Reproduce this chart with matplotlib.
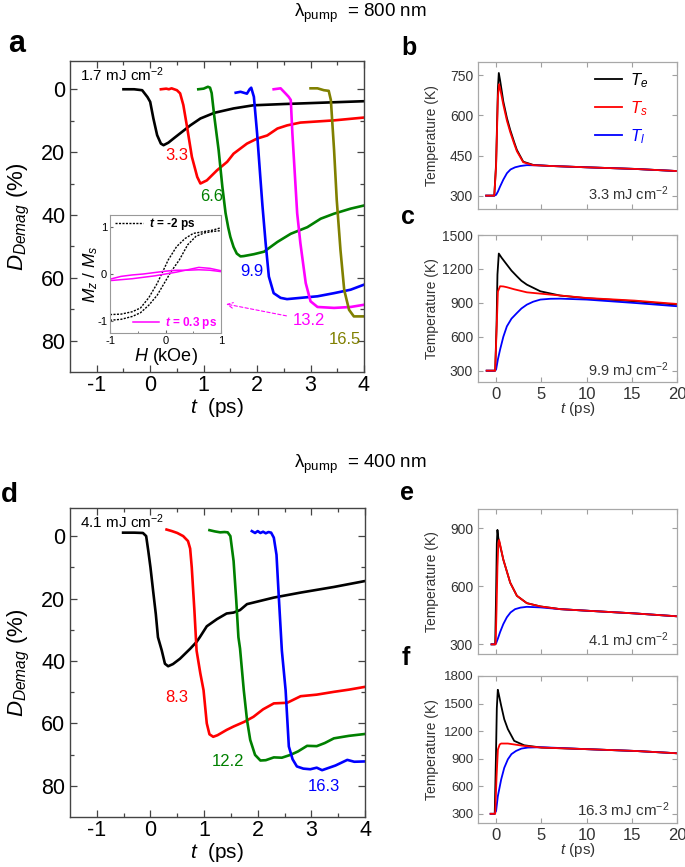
import matplotlib
matplotlib.use('Agg')
import matplotlib.pyplot as plt
from matplotlib.ticker import FixedLocator

plt.rcParams['font.family'] = ['Liberation Sans', 'DejaVu Sans']
plt.rcParams['mathtext.fontset'] = 'custom'
plt.rcParams['mathtext.rm'] = 'Liberation Sans'
plt.rcParams['mathtext.it'] = 'Liberation Sans:italic'
plt.rcParams['mathtext.bf'] = 'Liberation Sans:italic:bold'
plt.rcParams['axes.unicode_minus'] = False

# ---------------- data: panel a (800 nm) ----------------
a_fluence = ['1.7', '3.3', '6.6', '9.9', '13.2', '16.5']
a_colors = ['black', '#ff0000', '#008000', '#0000ff', '#ff00ff', '#808000']
a17_t = [-0.5, -0.3, -0.15, -0.05, 0.0, 0.06, 0.13, 0.2, 0.25, 0.34, 0.45, 0.6, 0.75, 0.94, 1.2, 1.56, 1.93, 2.5, 3.0, 3.5, 4.0]
a17_d = [0, 0, 0.3, 2.5, 4, 9.3, 14.6, 17.3, 17.8, 17.0, 15.5, 13.5, 11.5, 9.3, 7.5, 6.1, 5.1, 4.7, 4.4, 4.1, 3.8]
a33_t = [0.2, 0.3, 0.35, 0.4, 0.5, 0.56, 0.62, 0.69, 0.78, 0.88, 0.94, 1.06, 1.25, 1.44, 1.56, 1.81, 2.0, 2.19, 2.38, 2.56, 2.81, 3.44, 4.0]
a33_d = [0, -0.2, 0, -0.3, 0.3, 1.3, 5, 12, 21.5, 27.9, 30, 29, 25.8, 23.1, 20.5, 17.3, 15.7, 14.7, 12.5, 11.5, 10.6, 9.9, 9.0]
a66_t = [0.9, 1.0, 1.08, 1.12, 1.15, 1.2, 1.28, 1.35, 1.41, 1.46, 1.5, 1.56, 1.62, 1.69, 1.75, 1.94, 2.13, 2.38, 2.63, 2.94, 3.19, 3.44, 3.75, 4.0]
a66_d = [0, -0.2, -0.8, -0.5, 1.2, 8.7, 19.3, 31, 39.4, 44, 47, 50.2, 52.3, 53.2, 53.1, 52.5, 51.7, 48.6, 46, 43.9, 41.2, 39.6, 38, 37]
a99_t = [1.6, 1.69, 1.81, 1.86, 1.89, 1.94, 2.0, 2.06, 2.1, 2.16, 2.22, 2.31, 2.44, 2.56, 2.81, 3.13, 3.44, 3.75, 4.0]
a99_d = [1.1, 0.8, 1.4, 0, -0.5, 2.4, 14, 27.9, 37, 49, 59.6, 64.9, 66.4, 66.8, 66.4, 65.9, 64.9, 63.8, 62.2]
a132_t = [2.31, 2.44, 2.53, 2.59, 2.63, 2.66, 2.72, 2.75, 2.81, 2.91, 3.0, 3.13, 3.44, 3.75, 4.0]
a132_d = [0, -0.3, 1.3, 2.4, 3.4, 14, 31, 39.5, 49, 61.7, 67.5, 69.3, 69.6, 69.3, 68.6]
a165_t = [3.0, 3.13, 3.25, 3.34, 3.38, 3.44, 3.49, 3.56, 3.63, 3.72, 3.81, 4.0]
a165_d = [-0.3, -0.3, 0.3, 0.5, 3.4, 19.3, 35.2, 51.2, 63.9, 70.2, 72.3, 72.3]

# inset hysteresis loops
loop_H1 = [-1, -0.8, -0.6, -0.45, -0.3, -0.15, -0.05, 0.05, 0.2, 0.35, 0.5, 0.7, 0.85, 1.0]
loop_M1 = [-0.86, -0.85, -0.8, -0.72, -0.5, -0.2, 0.05, 0.3, 0.58, 0.75, 0.86, 0.9, 0.93, 0.98]
loop_H2 = [-1, -0.8, -0.6, -0.45, -0.3, -0.15, 0.0, 0.1, 0.25, 0.4, 0.55, 0.7, 0.85, 1.0]
loop_M2 = [-0.98, -0.96, -0.9, -0.82, -0.66, -0.45, -0.15, 0.05, 0.3, 0.62, 0.8, 0.87, 0.9, 0.92]
loopm_H = [-1, -0.8, -0.6, -0.4, -0.2, 0, 0.2, 0.4, 0.6, 0.8, 1.0]
loopm_M1 = [-0.14, -0.12, -0.1, -0.07, -0.04, 0.0, 0.04, 0.09, 0.14, 0.12, 0.07]
loopm_M2 = [-0.11, -0.05, -0.02, 0.0, 0.03, 0.06, 0.08, 0.08, 0.09, 0.08, 0.05]

# ---------------- data: panel d (400 nm) ----------------
d_fluence = ['4.1', '8.3', '12.2', '16.3']
d_colors = ['black', '#ff0000', '#008000', '#0000ff']
d41_t = [-0.51, -0.3, -0.14, -0.08, -0.04, 0.0, 0.05, 0.1, 0.14, 0.21, 0.27, 0.33, 0.42, 0.55, 0.74, 0.86, 0.92, 1.05, 1.24, 1.42, 1.55, 1.67, 1.8, 1.99, 2.3, 2.8, 3.42, 4.0]
d41_d = [-1.1, -1.1, -1.0, 0, 4.8, 10, 17.6, 25, 32.4, 36.6, 40.9, 41.7, 41, 39.3, 36.1, 33.9, 32.4, 28.9, 26.6, 24.8, 24.5, 23.7, 21.8, 21, 19.7, 18.1, 16.3, 14.4]
d83_t = [0.3, 0.4, 0.5, 0.61, 0.7, 0.74, 0.77, 0.82, 0.86, 0.93, 0.99, 1.05, 1.1, 1.17, 1.25, 1.42, 1.55, 1.75, 1.92, 2.1, 2.3, 2.55, 2.8, 3.1, 3.42, 3.7, 4.0]
d83_d = [-2.1, -1.6, -1.0, 0, 1.6, 4, 10, 24, 36.7, 44, 49.4, 60, 63.5, 64.3, 63.8, 62.1, 61, 59.5, 57.9, 55.5, 53.6, 53.4, 51.3, 50.8, 49.9, 49.2, 48.3]
d122_t = [1.1, 1.2, 1.3, 1.38, 1.44, 1.49, 1.55, 1.6, 1.64, 1.67, 1.74, 1.8, 1.86, 1.95, 2.05, 2.15, 2.3, 2.45, 2.61, 2.75, 2.92, 3.1, 3.25, 3.42, 3.7, 4.0]
d122_d = [-1.9, -1.5, -1.2, -1.3, -1.2, 0, 8, 20.7, 32.4, 36, 49.4, 58.9, 65.3, 70.1, 71.9, 71.8, 70.9, 71, 70.1, 69, 67.2, 67.3, 66.3, 64.8, 64, 63.4]
d163_t = [1.89, 1.95, 2.0, 2.05, 2.1, 2.15, 2.2, 2.25, 2.3, 2.35, 2.39, 2.45, 2.52, 2.58, 2.65, 2.73, 2.85, 2.98, 3.1, 3.2, 3.3, 3.45, 3.67, 3.8, 4.0]
d163_d = [-1.6, -1.0, -1.6, -1.0, -1.4, -0.9, -1.3, -1.1, 0.5, 6, 18.6, 36.7, 49.4, 67.4, 71.5, 73.8, 74.5, 74.7, 74.2, 75, 74.4, 73.5, 71.7, 72.3, 72.2]

# ---------------- data: temperature panels ----------------
b_Te_t = [-1.1, -0.2, 0.0, 0.1, 0.2, 0.3, 0.45, 0.8, 1.2, 1.56, 2.0, 2.3, 3.0, 4.1, 6, 10, 15.3, 20]
b_Te = [300, 300, 420, 560, 700, 759, 730, 652, 590, 546, 500, 471, 427, 415, 411, 406, 400, 392]
b_Ts_t = [-1.1, -0.2, 0.0, 0.1, 0.2, 0.33, 0.45, 0.8, 1.2, 1.56, 2.0, 2.3, 3.0, 4.1, 6, 10, 15.3, 20]
b_Ts = [300, 300, 410, 540, 670, 717, 700, 640, 580, 538, 494, 466, 425, 414, 411, 406, 400, 392]
b_Tl_t = [-1.1, -0.2, 0.0, 0.2, 0.44, 0.8, 1.2, 1.6, 2.1, 2.7, 3.4, 4.9, 6, 10, 15.3, 20]
b_Tl = [300, 300, 303, 315, 334, 360, 384, 398, 406, 411, 414, 413, 411, 406, 400, 392]

c_Te_t = [-1.04, -0.1, 0.05, 0.15, 0.3, 0.6, 1.19, 1.7, 2.3, 2.8, 3.4, 4.9, 7.1, 10.1, 15.3, 20]
c_Te = [300, 300, 700, 1150, 1336, 1300, 1238, 1185, 1135, 1095, 1061, 1002, 964, 940, 914, 884]
c_Ts_t = [-1.04, -0.1, 0.05, 0.2, 0.44, 0.8, 1.2, 2.0, 3.4, 6, 10, 15.3, 20]
c_Ts = [300, 300, 650, 1000, 1047, 1045, 1038, 1020, 993, 973, 943, 920, 890]
c_Tl_t = [-1.04, -0.2, 0.0, 0.2, 0.44, 0.8, 1.19, 1.7, 2.3, 2.8, 3.4, 4.1, 4.9, 6, 7.1, 10, 15.3, 20]
c_Tl = [300, 300, 310, 400, 486, 600, 692, 760, 810, 850, 884, 910, 929, 936, 937, 929, 899, 870]

e_Te_t = [-0.5, -0.1, 0.0, 0.08, 0.15, 0.25, 0.4, 0.8, 1.56, 2.3, 3.4, 4.9, 7.1, 10, 15.3, 20]
e_Te = [300, 300, 560, 820, 892, 850, 820, 738, 619, 551, 513, 496, 482, 474, 460, 445]
e_Ts_t = [-0.5, -0.05, 0.05, 0.15, 0.25, 0.33, 0.45, 0.8, 1.56, 2.3, 3.4, 4.9, 7.1, 10, 15.3, 20]
e_Ts = [300, 300, 480, 700, 820, 840, 815, 738, 619, 551, 513, 496, 482, 474, 460, 445]
e_Tl_t = [-0.5, -0.2, 0.0, 0.2, 0.44, 0.8, 1.19, 1.6, 2.1, 2.7, 3.4, 4.9, 7.1, 10, 15.3, 20]
e_Tl = [300, 300, 305, 330, 363, 405, 440, 465, 482, 490, 494, 491, 482, 474, 460, 445]

f_Te_t = [-0.6, -0.15, -0.02, 0.08, 0.19, 0.3, 0.56, 0.9, 1.3, 2.0, 3.1, 5, 10.2, 15.4, 20]
f_Te = [300, 300, 900, 1450, 1650, 1600, 1478, 1330, 1222, 1094, 1046, 1021, 1003, 984, 959]
f_Ts_t = [-0.6, -0.1, 0.05, 0.2, 0.4, 0.56, 1.3, 3.1, 5, 10.2, 15.4, 20]
f_Ts = [300, 300, 700, 1000, 1055, 1065, 1065, 1039, 1021, 1003, 984, 959]
f_Tl_t = [-0.6, -0.2, 0.0, 0.19, 0.56, 0.9, 1.3, 1.7, 2.2, 2.8, 3.5, 5, 10.2, 15.4, 20]
f_Tl = [300, 300, 330, 490, 673, 800, 893, 950, 984, 1010, 1021, 1025, 1003, 984, 959]

# ---------------- figure ----------------
W, H = 685, 867
fig = plt.figure(figsize=(6.85, 8.67), dpi=100)


def box(l, t, r, b):
    return [l / W, 1 - b / H, (r - l) / W, (b - t) / H]


def style_main(ax):
    ax.set_xlim(-1.5, 4)
    ax.set_ylim(90, -9)
    ax.xaxis.set_major_locator(FixedLocator([-1, 0, 1, 2, 3, 4]))
    ax.xaxis.set_minor_locator(FixedLocator([-0.5, 0.5, 1.5, 2.5, 3.5]))
    ax.yaxis.set_major_locator(FixedLocator([0, 20, 40, 60, 80]))
    ax.yaxis.set_minor_locator(FixedLocator([10, 30, 50, 70]))
    ax.tick_params(which='both', direction='in', top=True, right=True, colors='#444444',
                   labelcolor='black', labelsize=15.5, width=0.9)
    ax.tick_params(which='major', length=5)
    ax.tick_params(which='minor', length=3)
    ax.tick_params(axis='x', pad=2)
    for s in ax.spines.values():
        s.set_color('#444444')
        s.set_linewidth(1.0)
    ax.set_xlabel('$t$  (ps)', fontsize=15, labelpad=0)
    ax.set_ylabel('$D_{Demag}$ (%)', fontsize=16)
    ax.yaxis.set_label_coords(-0.13, 0.5)


def style_T(ax, ylim, yticks, xlabels, ysize=10):
    ax.set_xlim(-2, 20)
    ax.set_ylim(*ylim)
    ax.set_xticks([0, 5, 10, 15, 20])
    ax.set_yticks(yticks)
    ax.tick_params(which='both', direction='in', top=True, right=True, colors='#a0a0a0',
                   labelcolor='#333333', length=3.5, width=0.8)
    ax.tick_params(axis='y', labelsize=ysize)
    ax.tick_params(axis='x', labelsize=12)
    for s in ax.spines.values():
        s.set_color('#a8a8a8')
        s.set_linewidth(0.9)
    ax.set_ylabel('Temperature (K)', fontsize=10, color='#333333')
    ax.yaxis.set_label_coords(-0.195, 0.5)
    if xlabels:
        ax.set_xlabel('$t$ (ps)', fontsize=11, color='#333333', labelpad=-1)
    else:
        ax.tick_params(axis='x', labelbottom=False)


# ----- panel a -----
ax_a = fig.add_axes(box(70, 61, 364, 372))
a_t = [a17_t, a33_t, a66_t, a99_t, a132_t, a165_t]
a_d = [a17_d, a33_d, a66_d, a99_d, a132_d, a165_d]
for tt, dd, col in zip(a_t, a_d, a_colors):
    ax_a.plot(tt, dd, color=col, lw=1.9)
style_main(ax_a)
ax_a.text(-1.31, -2.5, '1.7 mJ cm$^{-2}$', fontsize=11, ha='left', va='baseline')
a_lab_pos = [None, (0.5, 21.1), (1.15, 34.0), (1.9, 58.0), (2.97, 73.6), (3.64, 79.6)]
for lab, pos, col in zip(a_fluence, a_lab_pos, a_colors):
    if pos is not None:
        ax_a.text(pos[0], pos[1], lab, color=col, fontsize=12, ha='center', va='center')
ax_a.annotate('', xy=(1.37, 68.2), xytext=(2.6, 72.3),
              arrowprops=dict(arrowstyle='->', linestyle=(0, (3, 2)), color='#ff00ff', lw=0.8))

# inset
ax_in = fig.add_axes(box(110, 215, 221, 333))
l1, = ax_in.plot(loop_H1, loop_M1, color='black', ls=(0, (1.5, 1)), lw=1.0)
ax_in.plot(loop_H2, loop_M2, color='black', ls=(0, (1.5, 1)), lw=1.0)
l2, = ax_in.plot(loopm_H, loopm_M1, color='#ff00ff', lw=1.1)
ax_in.plot(loopm_H, loopm_M2, color='#ff00ff', lw=1.1)
ax_in.set_xlim(-1, 1)
ax_in.set_ylim(-1.25, 1.25)
ax_in.set_xticks([-1, 0, 1])
ax_in.set_yticks([-1, 0, 1])
ax_in.xaxis.set_minor_locator(FixedLocator([-0.5, 0.5]))
ax_in.tick_params(which='both', direction='in', labelsize=8, length=2.5, colors='#666666',
                  labelcolor='black', pad=2)
ax_in.tick_params(which='minor', length=1.5)
for s in ax_in.spines.values():
    s.set_color('#999999')
    s.set_linewidth(0.8)
ax_in.set_xlabel('$H$ (kOe)', fontsize=13, labelpad=0)
ax_in.set_ylabel('$M_z$ / $M_s$', fontsize=12.5, labelpad=-2)
leg1 = ax_in.legend([l1], [r'$\mathbf{t}$ = -2 ps'], loc='upper left', bbox_to_anchor=(-0.03, 1.06),
                    frameon=False, handlelength=2.4, handletextpad=0.5, borderpad=0.2,
                    prop={'size': 8.5, 'weight': 'bold'})
ax_in.add_artist(leg1)
leg2 = ax_in.legend([l2], [r'$\mathbf{t}$ = 0.3 ps'], loc='lower left', bbox_to_anchor=(0.13, -0.05),
                    frameon=False, handlelength=2.2, handletextpad=0.5, borderpad=0.2,
                    prop={'size': 8.5, 'weight': 'bold'}, labelcolor='#ff00ff')

# ----- panel d -----
ax_d = fig.add_axes(box(70, 508, 365, 817))
d_t = [d41_t, d83_t, d122_t, d163_t]
d_d = [d41_d, d83_d, d122_d, d163_d]
for tt, dd, col in zip(d_t, d_d, d_colors):
    ax_d.plot(tt, dd, color=col, lw=1.9)
style_main(ax_d)
ax_d.text(-1.31, -2.5, '4.1 mJ cm$^{-2}$', fontsize=11, ha='left', va='baseline')
d_lab_pos = [None, (0.49, 51.7), (1.45, 72.1), (3.23, 80.3)]
for lab, pos, col in zip(d_fluence, d_lab_pos, d_colors):
    if pos is not None:
        ax_d.text(pos[0], pos[1], lab, color=col, fontsize=12, ha='center', va='center')

# ----- temperature panels -----


def draw_T(ax, te_t, te, tl_t, tl, ts_t, ts):
    h_e, = ax.plot(te_t, te, color='black', lw=1.3)
    h_l, = ax.plot(tl_t, tl, color='#0000ff', lw=1.3)
    h_s, = ax.plot(ts_t, ts, color='#ff0000', lw=1.3)
    return h_e, h_s, h_l


ax_b = fig.add_axes(box(478, 62, 677, 209))
hb = draw_T(ax_b, b_Te_t, b_Te, b_Tl_t, b_Tl, b_Ts_t, b_Ts)
style_T(ax_b, (250, 800), [300, 450, 600, 750], False)
ax_b.legend(hb, ['$T_e$', '$T_s$', '$T_l$'], loc='upper right', bbox_to_anchor=(0.93, 1.04),
            frameon=False, fontsize=12, handlelength=1.6, handletextpad=0.5, labelspacing=0.55,
            labelcolor=['black', '#ff0000', '#0000ff'])
ax_b.text(0.96, 0.06, '3.3 mJ cm$^{-2}$', transform=ax_b.transAxes, ha='right', va='baseline',
          fontsize=10.5, color='#333333')

ax_c = fig.add_axes(box(478, 235, 677, 382))
draw_T(ax_c, c_Te_t, c_Te, c_Tl_t, c_Tl, c_Ts_t, c_Ts)
style_T(ax_c, (200, 1500), [300, 600, 900, 1200, 1500], True)
ax_c.text(0.96, 0.04, '9.9 mJ cm$^{-2}$', transform=ax_c.transAxes, ha='right', va='baseline',
          fontsize=10.5, color='#333333')

ax_e = fig.add_axes(box(478, 509, 677, 654))
draw_T(ax_e, e_Te_t, e_Te, e_Tl_t, e_Tl, e_Ts_t, e_Ts)
style_T(ax_e, (250, 1000), [300, 600, 900], False)
ax_e.text(0.96, 0.055, '4.1 mJ cm$^{-2}$', transform=ax_e.transAxes, ha='right', va='baseline',
          fontsize=10.5, color='#333333')

ax_f = fig.add_axes(box(478, 676, 677, 823))
draw_T(ax_f, f_Te_t, f_Te, f_Tl_t, f_Tl, f_Ts_t, f_Ts)
style_T(ax_f, (200, 1800), [300, 600, 900, 1200, 1500, 1800], True, ysize=9.5)
ax_f.text(0.96, 0.05, '16.3 mJ cm$^{-2}$', transform=ax_f.transAxes, ha='right', va='baseline',
          fontsize=11, color='#333333')

# ----- titles and panel letters -----
fig.text(360 / W, 1 - 16.7 / H, r'$\mathrm{\lambda}_{\mathrm{pump}}$  = 800 nm', fontsize=13.5,
         ha='center', va='baseline')
fig.text(360 / W, 1 - 468.3 / H, r'$\mathrm{\lambda}_{\mathrm{pump}}$  = 400 nm', fontsize=13.5,
         ha='center', va='baseline')
for letter, x, y, size in [('a', 8, 52, 22), ('d', 1, 502, 20), ('b', 401, 55, 18),
                           ('c', 401, 224, 18), ('e', 400, 500, 18), ('f', 402, 665, 18)]:
    fig.text(x / W, 1 - y / H, letter, fontsize=size, fontweight='bold', ha='left', va='baseline')

fig.savefig('out.png', dpi=100)
